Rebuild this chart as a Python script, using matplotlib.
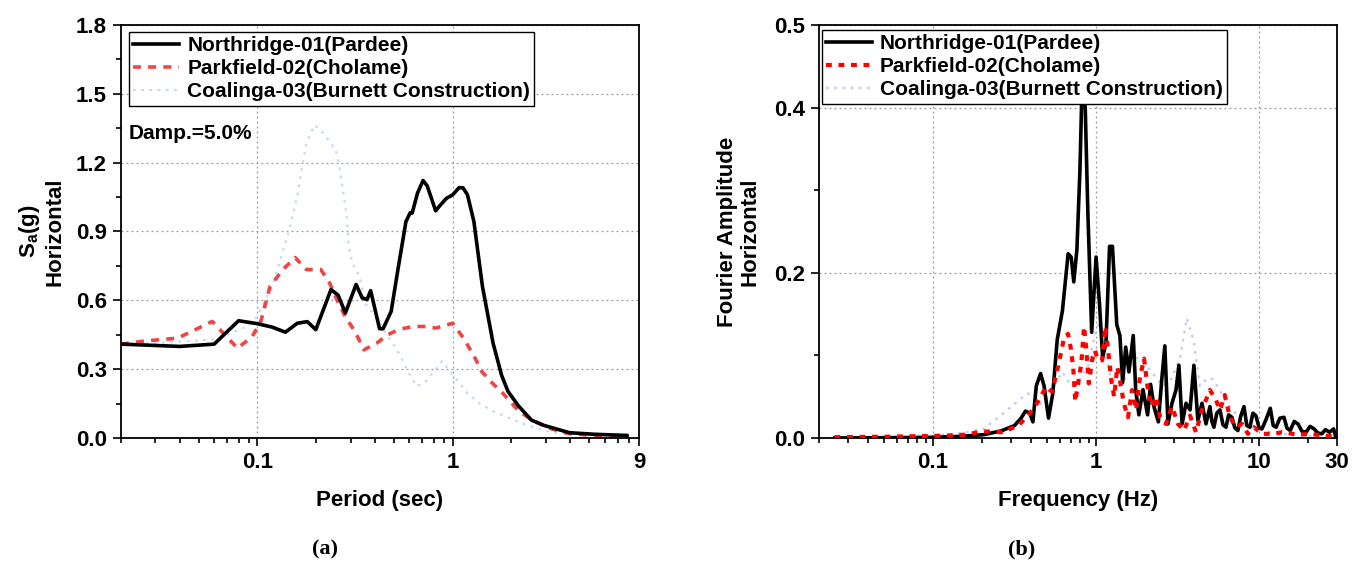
import numpy as np
import matplotlib
matplotlib.use('Agg')
import matplotlib.pyplot as plt

plt.rcParams['font.family'] = ['Liberation Sans', 'DejaVu Sans']
plt.rcParams['font.weight'] = 'bold'
plt.rcParams['mathtext.default'] = 'regular'

# ---- (a) response spectra, Sa vs period ----
T_nor = [0.02, 0.04, 0.06, 0.08, 0.1, 0.119, 0.139, 0.16, 0.18, 0.199, 0.238, 0.259,
         0.282, 0.32, 0.344, 0.364, 0.38, 0.422, 0.44, 0.484, 0.522, 0.576, 0.606,
         0.62, 0.66, 0.705, 0.74, 0.818, 0.86, 0.928, 1.0, 1.078, 1.13, 1.19, 1.284,
         1.419, 1.61, 1.78, 1.92, 2.17, 2.53, 2.93, 3.96, 5.35, 7.8]
Sa_nor = [0.409, 0.399, 0.409, 0.511, 0.498, 0.483, 0.461, 0.50, 0.507, 0.472, 0.647,
          0.622, 0.545, 0.669, 0.61, 0.603, 0.642, 0.476, 0.476, 0.552, 0.725, 0.943,
          0.982, 0.98, 1.067, 1.122, 1.099, 0.99, 1.013, 1.044, 1.06, 1.091, 1.09,
          1.06, 0.943, 0.662, 0.413, 0.273, 0.203, 0.14, 0.078, 0.055, 0.023, 0.016,
          0.011]

T_par = [0.02, 0.0267, 0.039, 0.048, 0.0587, 0.068, 0.079, 0.094, 0.104, 0.116, 0.135,
         0.156, 0.178, 0.211, 0.234, 0.255, 0.284, 0.316, 0.351, 0.408, 0.465, 0.527,
         0.625, 0.71, 0.82, 1.0, 1.136, 1.29, 1.41, 1.6, 1.81, 2.16, 2.55, 3.17, 3.93,
         5.1, 8.0]
Sa_par = [0.409, 0.423, 0.435, 0.472, 0.508, 0.45, 0.391, 0.442, 0.508, 0.661, 0.734,
          0.786, 0.734, 0.734, 0.676, 0.603, 0.523, 0.464, 0.384, 0.413, 0.45, 0.472,
          0.486, 0.486, 0.479, 0.50, 0.435, 0.355, 0.289, 0.238, 0.194, 0.121, 0.077,
          0.041, 0.019, 0.012, 0.004]

T_coa = [0.02, 0.03, 0.04, 0.05, 0.06, 0.07, 0.08, 0.09, 0.1, 0.119, 0.146, 0.161,
         0.169, 0.178, 0.196, 0.217, 0.252, 0.265, 0.286, 0.293, 0.308, 0.332, 0.358,
         0.396, 0.438, 0.509, 0.591, 0.653, 0.722, 0.798, 0.882, 0.975, 1.078, 1.19,
         1.385, 1.61, 1.965, 2.4, 3.24, 5.0, 8.0]
Sa_coa = [0.41, 0.415, 0.42, 0.425, 0.43, 0.45, 0.47, 0.49, 0.53, 0.66, 0.912, 1.068,
          1.177, 1.286, 1.364, 1.33, 1.255, 1.161, 0.974, 0.834, 0.756, 0.709, 0.584,
          0.538, 0.475, 0.397, 0.288, 0.226, 0.242, 0.288, 0.335, 0.288, 0.242, 0.195,
          0.148, 0.117, 0.086, 0.055, 0.023, 0.012, 0.006]

# ---- (b) Fourier amplitude vs frequency ----
f_nor = [0.025, 0.05, 0.1, 0.15, 0.205, 0.263, 0.316, 0.347, 0.369, 0.392, 0.41, 0.43,
         0.457, 0.48, 0.511, 0.543, 0.578, 0.622, 0.674, 0.704, 0.73, 0.763, 0.796,
         0.821, 0.858, 0.89, 0.94, 1.0, 1.05, 1.097, 1.15, 1.21, 1.26, 1.34, 1.4,
         1.455, 1.52, 1.59, 1.69, 1.75, 1.83, 1.94, 2.07, 2.16, 2.27, 2.41, 2.53,
         2.64, 2.76, 2.92, 3.09, 3.22, 3.37, 3.56, 3.77, 3.98, 4.21, 4.46, 4.72, 4.99,
         5.13, 5.28, 5.5, 5.75, 6.0, 6.26, 6.5, 6.81, 7.1, 7.41, 7.7, 8.07, 8.4, 8.78,
         9.15, 9.55, 10.0, 10.4, 11.0, 11.7, 12.2, 12.7, 13.4, 14.2, 14.8, 15.5, 16.4,
         17.3, 18.3, 19.4, 20.5, 21.7, 22.9, 24.2, 25.5, 27.0, 28.6, 29.5]
A_nor = [0.0, 0.0003, 0.0008, 0.002, 0.004, 0.0087, 0.015, 0.024, 0.0325, 0.030, 0.0195,
         0.063, 0.078, 0.063, 0.024, 0.054, 0.119, 0.154, 0.223, 0.219, 0.189, 0.228,
         0.323, 0.429, 0.401, 0.275, 0.128, 0.219, 0.162, 0.0975, 0.115, 0.232, 0.232,
         0.137, 0.124, 0.067, 0.11, 0.08, 0.124, 0.0585, 0.028, 0.0585, 0.028, 0.065,
         0.037, 0.0195, 0.0715, 0.1115, 0.017, 0.042, 0.058, 0.088, 0.017, 0.042,
         0.034, 0.088, 0.021, 0.042, 0.017, 0.038,
         0.020, 0.013, 0.030, 0.034, 0.016, 0.013, 0.028, 0.025, 0.012, 0.009, 0.026,
         0.038, 0.015, 0.013, 0.030, 0.027, 0.012, 0.011, 0.022, 0.036, 0.015, 0.013,
         0.024, 0.025, 0.012, 0.009, 0.020, 0.017, 0.008, 0.007, 0.014, 0.011, 0.006,
         0.005, 0.010, 0.007, 0.011, 0.001]

f_par = [0.0249, 0.05, 0.096, 0.124, 0.16, 0.2, 0.266, 0.333, 0.383, 0.441, 0.494,
         0.537, 0.569, 0.602, 0.637, 0.674, 0.701, 0.725, 0.746, 0.776, 0.812, 0.844,
         0.868, 0.903, 0.945, 0.983, 1.03, 1.09, 1.14, 1.18, 1.24, 1.29, 1.35, 1.40,
         1.48, 1.57, 1.66, 1.76, 1.86, 1.97, 2.08, 2.20, 2.33, 2.47, 2.68, 2.92, 3.18,
         3.46, 3.77, 4.10, 4.46, 4.99, 5.43, 5.75, 6.15, 6.62, 7.2, 7.84, 8.54, 9.29,
         10.4, 12.3, 13.8, 17.3, 20.5, 24.2, 28.6]
A_par = [0.001, 0.0015, 0.0024, 0.003, 0.004, 0.008, 0.007, 0.015, 0.027, 0.044, 0.062,
         0.056, 0.076, 0.098, 0.122, 0.126, 0.108, 0.084, 0.044, 0.066, 0.09, 0.135,
         0.110, 0.066, 0.094, 0.106, 0.094, 0.094, 0.135, 0.110, 0.070, 0.050, 0.086,
         0.070, 0.042, 0.025, 0.058, 0.034, 0.074, 0.096, 0.058, 0.038, 0.050, 0.025,
         0.017, 0.038, 0.017, 0.009, 0.027, 0.007, 0.034, 0.058, 0.046, 0.034, 0.052,
         0.025, 0.013, 0.017, 0.005, 0.013, 0.005, 0.005, 0.007, 0.004, 0.005, 0.003,
         0.002]

f_coa = [0.025, 0.05, 0.1, 0.15, 0.205, 0.263, 0.336, 0.38, 0.457, 0.55, 0.622, 0.704,
         0.796, 0.9, 0.99, 1.05, 1.12, 1.22, 1.39, 1.57, 1.77, 2.0, 2.27, 2.56, 2.9,
         3.28, 3.6, 3.95, 4.33, 4.75, 5.2, 5.7, 6.45, 7.3, 8.25, 9.9, 11.9, 15.3, 20.8,
         29.2]
A_coa = [0.0003, 0.0008, 0.003, 0.006, 0.011, 0.028, 0.0455, 0.054, 0.041, 0.063, 0.080,
         0.063, 0.0715, 0.089, 0.128, 0.141, 0.106, 0.076, 0.063, 0.076, 0.0975, 0.089,
         0.076, 0.063, 0.0715, 0.0975, 0.145, 0.119, 0.063, 0.0715, 0.0715, 0.0585,
         0.041, 0.028, 0.015, 0.011, 0.0065, 0.004, 0.002, 0.002]

labels = ['Northridge-01(Pardee)', 'Parkfield-02(Cholame)',
          'Coalinga-03(Burnett Construction)']

fig = plt.figure(figsize=(13.55, 5.61), dpi=100)
ax1 = fig.add_axes([0.0893, 0.2193, 0.3823, 0.7362])
ax2 = fig.add_axes([0.6044, 0.2193, 0.3823, 0.7362])


def style_axes(ax, xt, xl, yt, yl, ymin):
    ax.set_xscale('log')
    ax.set_xticks(xt)
    ax.set_xticklabels(xl, fontweight='bold')
    ax.set_yticks(yt)
    ax.set_yticklabels(yl, fontweight='bold')
    ax.set_yticks(ymin, minor=True)
    ax.grid(True, which='major', color='#999999', linestyle=(0, (1.5, 2.5)),
            linewidth=0.9)
    ax.tick_params(which='both', direction='out', top=False, right=False,
                   labelsize=16, width=1.2)
    ax.tick_params(which='major', length=6, pad=4)
    ax.tick_params(which='minor', length=3.5)
    for s in ax.spines.values():
        s.set_linewidth(1.3)


# (a)
ax1.plot(T_coa, Sa_coa, color='#c4daf4', lw=1.6, dashes=(1.2, 2.5), label=labels[2])
ax1.plot(T_par, Sa_par, color='#f04545', lw=2.6, dashes=(2.2, 2.0), label=labels[1])
ax1.plot(T_nor, Sa_nor, color='black', lw=2.6, label=labels[0])
style_axes(ax1, [0.1, 1, 9], ['0.1', '1', '9'],
           np.arange(0, 1.81, 0.3), ['%.1f' % v for v in np.arange(0, 1.81, 0.3)],
           np.arange(0.15, 1.8, 0.3))
ax1.set_xlim(0.02, 9)
ax1.set_ylim(0, 1.8)
ax1.set_xlabel('Period (sec)', fontsize=16, fontweight='bold', labelpad=12)
ax1.set_ylabel('S$_\\mathregular{a}$(g)\nHorizontal', fontsize=16,
               fontweight='bold', labelpad=8, linespacing=1.1)
ax1.text(0.015, 0.737, 'Damp.=5.0%', transform=ax1.transAxes, fontsize=15,
         fontweight='bold', va='center', ha='left')
h, l = ax1.get_legend_handles_labels()
order = [2, 1, 0]
leg1 = ax1.legend([h[i] for i in order], [l[i] for i in order], loc='upper left',
                  bbox_to_anchor=(0.0154, 0.983), borderaxespad=0, frameon=True,
                  fancybox=False, handlelength=2.2, handletextpad=0.4,
                  labelspacing=0.2, borderpad=0.2, prop={'weight': 'bold', 'size': 15})
leg1.get_frame().set_edgecolor('black')
leg1.get_frame().set_linewidth(1.0)
leg1.get_frame().set_alpha(1)

# (b)
ax2.plot(f_coa, A_coa, color='#c6c6ef', lw=1.6, dashes=(1.2, 2.5), label=labels[2])
ax2.plot(f_nor, A_nor, color='black', lw=2.6, label=labels[0], zorder=3)
ax2.plot(f_par, A_par, color='#ff0000', lw=3.0, dashes=(1.4, 1.6), label=labels[1],
         zorder=4)
style_axes(ax2, [0.1, 1, 10, 30], ['0.1', '1', '10', '30'],
           [0, 0.2, 0.4, 0.5], ['0.0', '0.2', '0.4', '0.5'], [0.1, 0.3])
ax2.set_xlim(0.02, 30)
ax2.set_ylim(0, 0.5)
ax2.set_xlabel('Frequency (Hz)', fontsize=16, fontweight='bold', labelpad=12)
ax2.set_ylabel('Fourier Amplitude\nHorizontal', fontsize=16, fontweight='bold',
               labelpad=10, linespacing=1.1)
h, l = ax2.get_legend_handles_labels()
order = [1, 2, 0]
leg2 = ax2.legend([h[i] for i in order], [l[i] for i in order], loc='upper left',
                  bbox_to_anchor=(0.005, 0.988), borderaxespad=0, frameon=True,
                  fancybox=False, handlelength=2.2, handletextpad=0.4,
                  labelspacing=0.2, borderpad=0.2, prop={'weight': 'bold', 'size': 15})
leg2.get_frame().set_edgecolor('black')
leg2.get_frame().set_linewidth(1.0)
leg2.get_frame().set_alpha(1)

fig.text(325 / 1355, 1 - 549 / 561, '(a)', fontsize=16, fontweight='bold',
         family=['Liberation Serif', 'DejaVu Serif'], ha='center', va='center')
fig.text(1022 / 1355, 1 - 549 / 561, '(b)', fontsize=16, fontweight='bold',
         family=['Liberation Serif', 'DejaVu Serif'], ha='center', va='center')

fig.savefig('out.png', dpi=100)
